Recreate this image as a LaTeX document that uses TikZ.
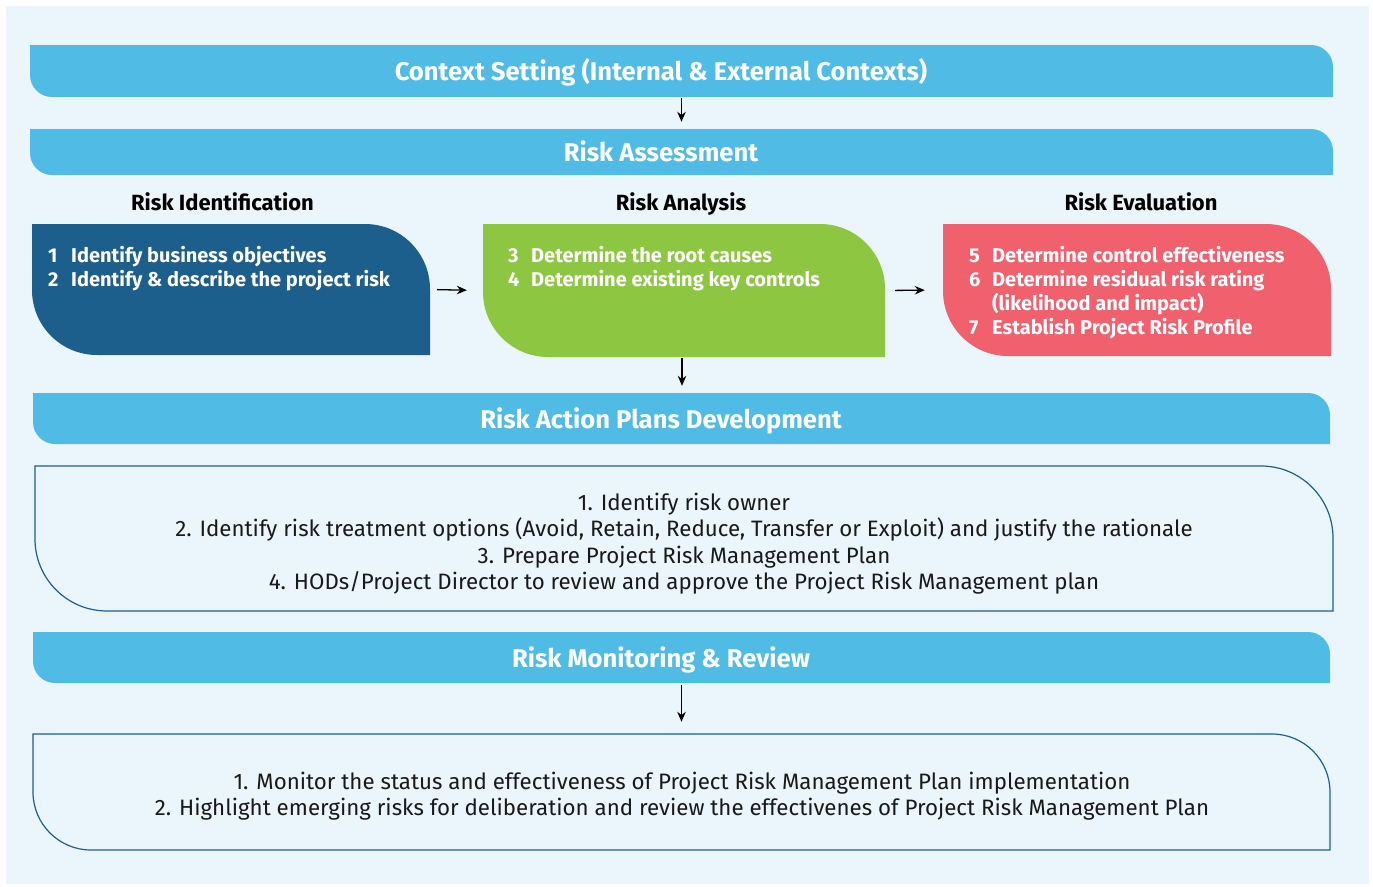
\documentclass[tikz,border=0pt]{standalone}
\usepackage{fontspec}
\setmainfont{Fira Sans}
\usetikzlibrary{arrows.meta}
\definecolor{bgc}{HTML}{EAF6FC}
\definecolor{barc}{HTML}{50BBE4}
\definecolor{darkc}{HTML}{1C5F8D}
\definecolor{greenc}{HTML}{8DC641}
\definecolor{redc}{HTML}{F0606D}
\definecolor{linec}{HTML}{1F5F8F}
% shape with rounded top-right and bottom-left corners: options, x1, y1, x2, y2, radius
\newcommand\trblpath[6]{%
  \path[#1] (#2,#3) -- ({#4-#6},#3) arc[start angle=270,end angle=360,radius=#6]
    -- (#4,#5) -- ({#2+#6},#5) arc[start angle=90,end angle=180,radius=#6] -- cycle;}
\begin{document}
\begin{tikzpicture}[x=1pt,y=-1pt,
  geo/.style={inner sep=0pt,minimum width=#1},
  bartext/.style={text=white,font=\fontsize{25.6}{28}\selectfont\bfseries,inner sep=0pt,anchor=base},
  subhead/.style={text=black,font=\fontsize{22}{24}\selectfont\bfseries,inner sep=0pt,anchor=base},
  boxtext/.style={text=white,font=\fontsize{20}{24}\selectfont\bfseries,inner sep=0pt,anchor=base west},
  bodytext/.style={text=black!90,font=\fontsize{22.3}{26.4}\selectfont,inner sep=0pt,anchor=base},
  arr/.style={-{Stealth[length=10pt,width=8.5pt]},line width=1.3pt,black}]
\useasboundingbox (0,0) rectangle (1373,886);
\fill[white] (0,0) rectangle (1373,886);
\fill[bgc] (6,6) rectangle (1369,884);

% shapes
\trblpath{fill=barc}{30}{45}{1333}{97}{22}
\trblpath{fill=barc}{30}{129}{1333}{175}{22}
\trblpath{fill=darkc}{32}{224}{430}{355}{65}
\trblpath{fill=greenc}{483}{224}{885}{357}{65}
\trblpath{fill=redc}{943}{224}{1331}{356}{65}
\trblpath{fill=barc}{33}{393}{1330}{444}{22}
\trblpath{draw=linec,line width=1.2pt}{35}{466}{1333}{611}{72}
\trblpath{fill=barc}{33}{632}{1330}{683}{22}
\trblpath{draw=linec,line width=1.2pt}{33}{734}{1330}{850}{58}

% geometry nodes
\node[geo=1303,minimum height=52] (ctx) at (681.5,71) {};
\node[geo=1303,minimum height=46] (assess) at (681.5,152) {};
\node[geo=398,minimum height=131] (ident) at (231,289.5) {};
\node[geo=402,minimum height=133] (analysis) at (684,290.5) {};
\node[geo=388,minimum height=132] (evalu) at (1137,290) {};
\node[geo=1297,minimum height=51] (plans) at (681.5,418.5) {};
\node[geo=1298,minimum height=145] (plansbox) at (684,538.5) {};
\node[geo=1297,minimum height=51] (monitor) at (681.5,657.5) {};
\node[geo=1297,minimum height=116] (monbox) at (681.5,792) {};

% bar titles
\node[bartext] (ctxT) at (661,80.7) {Context Setting (Internal \& External Contexts)};
\node[bartext] (assessT) at (661,161.7) {Risk Assessment};
\node[bartext] (plansT) at (661,428) {Risk Action Plans Development};
\node[bartext] (monitorT) at (661,667) {Risk Monitoring \& Review};

% sub headings
\node[subhead] (identH) at (222.5,210) {Risk Identification};
\node[subhead] (analysisH) at (681,210) {Risk Analysis};
\node[subhead] (evaluH) at (1141,210) {Risk Evaluation};

% box texts
\node[boxtext] (identT) at (48,262) {\begin{tabular}[t]{@{}p{23pt}@{}l@{}}
1 & Identify business objectives\\
2 & Identify \& describe the project risk\end{tabular}};
\node[boxtext] (analysisT) at (508,262) {\begin{tabular}[t]{@{}p{23pt}@{}l@{}}
3 & Determine the root causes\\
4 & Determine existing key controls\end{tabular}};
\node[boxtext] (evaluT) at (969,262) {\begin{tabular}[t]{@{}p{23pt}@{}l@{}}
5 & Determine control effectiveness\\
6 & Determine residual risk rating\\
  & (likelihood and impact)\\
7 & Establish Project Risk Profile\end{tabular}};

% body texts
\node[bodytext] (plansTxt) at (684,510) {\begin{tabular}[t]{@{}c@{}}
1. Identify risk owner\\
2. Identify risk treatment options (Avoid, Retain, Reduce, Transfer or Exploit) and justify the rationale\\
3. Prepare Project Risk Management Plan\\
4. HODs/Project Director to review and approve the Project Risk Management plan\end{tabular}};
\node[bodytext] (monTxt) at (682,789) {\begin{tabular}[t]{@{}c@{}}
1. Monitor the status and effectiveness of Project Risk Management Plan implementation\\
2. Highlight emerging risks for deliberation and review the effectivenes of Project Risk Management Plan\end{tabular}};

% connectors
\draw[arr,shorten <=1pt,shorten >=7pt] (ctx.south) -- (assess.north);
\draw[arr,shorten <=7pt,shorten >=16pt] (ident.east) -- (analysis.west);
\draw[arr,shorten <=10pt,shorten >=18pt] (analysis.east) -- (evalu.west);
\draw[arr,shorten <=1pt,shorten >=7pt] ([xshift=-2pt]analysis.south) -- ([xshift=-2pt]analysis.south |- plans.north);
\draw[arr,shorten <=2pt,shorten >=12pt] (monitor.south) -- (monbox.north);
\end{tikzpicture}
\end{document}
